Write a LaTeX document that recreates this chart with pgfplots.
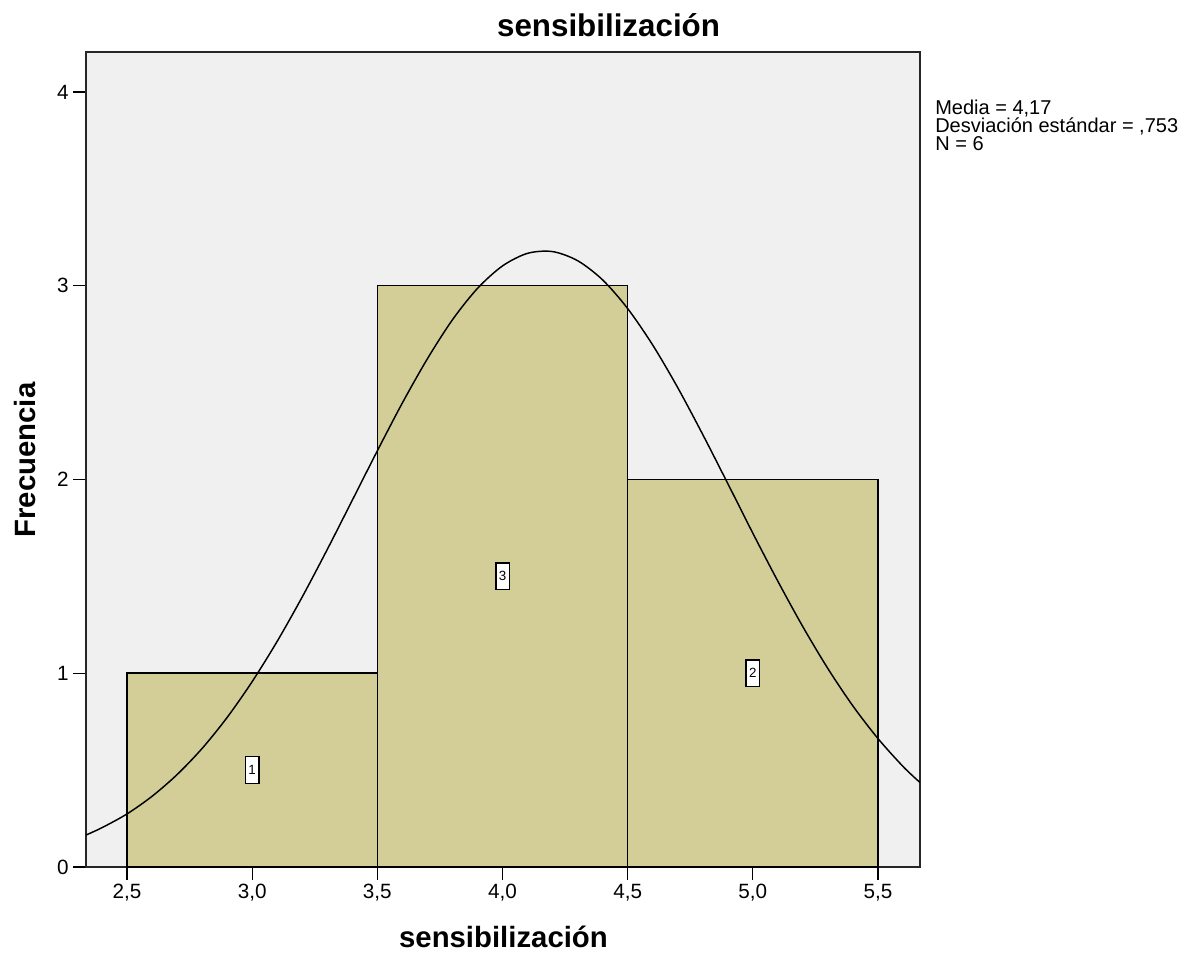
\documentclass[border=0pt]{standalone}
\usepackage{fontspec}
\setmainfont{Liberation Sans}
\usepackage{pgfplots}
\pgfplotsset{compat=1.18}
\definecolor{barc}{RGB}{211,206,152}
\definecolor{bgc}{RGB}{240,240,240}
\begin{document}
\begin{tikzpicture}
\path[use as bounding box] (-64.5pt,-65.25pt) rectangle (837pt,650.25pt);
\begin{axis}[
  at={(0,0)}, anchor=south west,
  scale only axis, width=625.5pt, height=611.25pt,
  xmin=2.336, xmax=5.668, ymin=0, ymax=4.206,
  xtick={2.5,3.0,3.5,4.0,4.5,5.0,5.5}, ytick={0,1,2,3,4},
  tick align=outside, major tick length=9.5pt,
  tick style={line width=1pt, black},
  xtick pos=bottom, ytick pos=left,
  axis background/.style={fill=bgc},
  axis line style={line width=1.3pt, black!85},
  ticklabel style={font=\fontsize{15.5}{18}\selectfont, /pgf/number format/assume math mode=true},
  xticklabel style={/pgf/number format/.cd, fixed, fixed zerofill, precision=1, use comma},
  yticklabel style={/pgf/number format/.cd, fixed, precision=0},
]
\addplot[ybar interval, fill=barc, draw=black, line width=1.1pt] coordinates {
  (2.5,1) (3.5,3) (4.5,2) (5.5,2)
};
\addplot[smooth, black, line width=1.1pt] coordinates {
  (2.336,0.165) (2.4,0.203) (2.5,0.274) (2.6,0.365) (2.7,0.477) (2.8,0.612)
  (2.9,0.772) (3.0,0.957) (3.1,1.165) (3.2,1.394) (3.3,1.639) (3.4,1.893)
  (3.5,2.148) (3.6,2.395) (3.7,2.623) (3.8,2.824) (3.9,2.986) (4.0,3.102)
  (4.1,3.167) (4.2,3.176) (4.3,3.129) (4.4,3.030) (4.5,2.882)
  (4.6,2.694) (4.7,2.474) (4.8,2.232) (4.9,1.979) (5.0,1.723) (5.1,1.475)
  (5.2,1.240) (5.3,1.024) (5.4,0.831) (5.5,0.663) (5.6,0.519) (5.668,0.436)
};
\node[draw=black, fill=white, line width=1pt, inner sep=1pt, minimum width=10pt, minimum height=20pt, font=\fontsize{10}{11}\selectfont] at (axis cs:3.0,0.5) {1};
\node[draw=black, fill=white, line width=1pt, inner sep=1pt, minimum width=10pt, minimum height=20pt, font=\fontsize{10}{11}\selectfont] at (axis cs:4.0,1.5) {3};
\node[draw=black, fill=white, line width=1pt, inner sep=1pt, minimum width=10pt, minimum height=20pt, font=\fontsize{10}{11}\selectfont] at (axis cs:5.0,1.0) {2};
\end{axis}
\node[anchor=base, font=\fontsize{23.5}{28}\selectfont\bfseries, inner sep=0pt] at (391.9pt,622.5pt) {sensibilización};
\node[anchor=base, font=\fontsize{22}{26}\selectfont\bfseries, inner sep=0pt] at (313.1pt,-60pt) {sensibilización};
\node[anchor=base, rotate=90, font=\fontsize{22}{26}\selectfont\bfseries, inner sep=0pt] at (-38.25pt,305.25pt) {Frecuencia};
\node[anchor=north west, inner sep=0pt, align=left, font=\fontsize{15}{13.5}\selectfont] at (636.75pt,575.5pt) {Media = 4,17\\Desviación estándar = ,753\\N = 6};
\end{tikzpicture}
\end{document}
